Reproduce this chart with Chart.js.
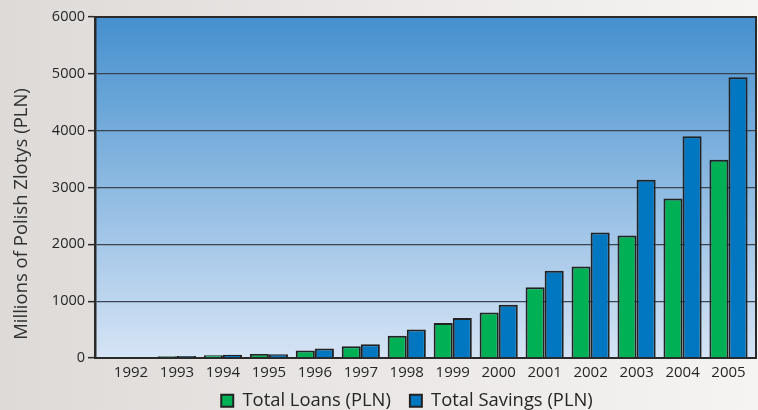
<!DOCTYPE html>
<html>
<head>
<meta charset="utf-8">
<style>
  html, body { margin: 0; padding: 0; background: #e6e3e1; }
  #wrap { width: 758px; height: 410px; position: relative; }
</style>
<script src="https://cdn.jsdelivr.net/npm/chart.js@4/dist/chart.umd.min.js"></script>
</head>
<body>
<div id="wrap"><canvas id="chart" width="758" height="410"></canvas></div>
<script>
// Years on the horizontal axis
const years = [1992, 1993, 1994, 1995, 1996, 1997, 1998, 1999, 2000, 2001, 2002, 2003, 2004, 2005];
// Millions of PLN
const totalLoans   = [0, 30, 50, 70, 130, 205, 390, 615, 800, 1245, 1610, 2155, 2805, 3490];
const totalSavings = [0, 35, 55, 65, 165, 240, 500, 705, 935, 1535, 2210, 3135, 3900, 4940];
const valueTicks = [0, 1000, 2000, 3000, 4000, 5000, 6000];
const seriesNames = ['Total Loans (PLN)', 'Total Savings (PLN)'];
const yTitle = 'Millions of Polish Zlotys (PLN)';

const FONT = '"Open Sans", "Noto Sans", sans-serif';
const INK = '#262626';

// Page wash and plot-area gradient behind everything
const backdrop = {
  id: 'backdrop',
  beforeDraw(chart) {
    const { ctx, width, height, chartArea: a } = chart;
    ctx.save();
    const page = ctx.createLinearGradient(0, 0, width, 0);
    page.addColorStop(0, '#dedad8');
    page.addColorStop(1, '#f6f4f3');
    ctx.fillStyle = page;
    ctx.fillRect(0, 0, width, height);
    const plot = ctx.createLinearGradient(0, a.top, 0, a.bottom);
    plot.addColorStop(0, '#4590ce');
    plot.addColorStop(1, '#d6e4f5');
    ctx.fillStyle = plot;
    ctx.fillRect(a.left, a.top, a.right - a.left, a.bottom - a.top);
    ctx.restore();
  },
  afterDatasetsDraw(chart) {
    // top and right edges of the plot frame
    const { ctx, chartArea: a } = chart;
    ctx.save();
    ctx.strokeStyle = '#2a2a2a';
    ctx.lineWidth = 2;
    ctx.beginPath();
    ctx.moveTo(a.left, a.top);
    ctx.lineTo(a.right, a.top);
    ctx.lineTo(a.right, a.bottom);
    ctx.stroke();
    ctx.restore();
  }
};

// Legend row sits a little higher and is centred under the bars
const legendPlacement = {
  id: 'legendPlacement',
  afterLayout(chart) {
    const lg = chart.legend;
    if (!lg) return;
    lg.left = 58;
    lg.width = lg.right - lg.left;
    lg.top = 372.5;
    lg.bottom = 410;
    lg.height = lg.bottom - lg.top;
  }
};

// Rotated value-axis title
const axisTitle = {
  id: 'axisTitle',
  afterDraw(chart) {
    const { ctx } = chart;
    ctx.save();
    ctx.translate(22, 214);
    ctx.rotate(-Math.PI / 2);
    ctx.font = '18.5px ' + FONT;
    ctx.fillStyle = '#303030';
    ctx.textAlign = 'center';
    ctx.textBaseline = 'middle';
    ctx.fillText(yTitle, 0, 0);
    ctx.restore();
  }
};

new Chart(document.getElementById('chart'), {
  type: 'bar',
  data: {
    labels: years,
    datasets: [
      {
        label: seriesNames[0],
        data: totalLoans,
        backgroundColor: '#00b054',
        borderColor: '#222222',
        borderWidth: 2
      },
      {
        label: seriesNames[1],
        data: totalSavings,
        backgroundColor: '#0077c0',
        borderColor: '#222222',
        borderWidth: 2
      }
    ]
  },
  options: {
    responsive: false,
    animation: false,
    devicePixelRatio: 1,
    layout: { padding: { left: 0, right: 2, top: 17, bottom: 0 } },
    datasets: {
      bar: { categoryPercentage: 0.83, barPercentage: 1.0 }
    },
    plugins: {
      title: { display: false },
      tooltip: { enabled: false },
      legend: {
        display: true,
        position: 'bottom',
        maxHeight: 28,
        labels: {
          boxWidth: 12,
          boxHeight: 12,
          padding: 19,
          color: INK,
          font: { family: FONT, size: 18.4 }
        }
      }
    },
    scales: {
      x: {
        type: 'linear',
        offset: false,
        min: 1991.217,
        max: 2005.598,
        afterBuildTicks(scale) {
          scale.ticks = years.map(v => ({ value: v }));
        },
        afterFit(scale) { scale.height = 24; },
        grid: { display: false, drawTicks: false },
        border: { display: true, color: '#2a2a2a', width: 2 },
        ticks: {
          padding: 6,
          color: INK,
          autoSkip: false,
          maxRotation: 0,
          font: { family: FONT, size: 15 },
          callback: v => String(v)
        }
      },
      y: {
        min: 0,
        max: 6000,
        afterBuildTicks(scale) {
          scale.ticks = valueTicks.map(v => ({ value: v }));
        },
        afterFit(scale) { scale.width = 95; },
        grid: {
          color: '#3a4350',
          lineWidth: 1.3,
          drawTicks: true,
          tickLength: 7,
          tickColor: '#2a2a2a',
          tickWidth: 1.5
        },
        border: { display: true, color: '#2a2a2a', width: 2.5 },
        ticks: {
          padding: 3,
          color: INK,
          font: { family: FONT, size: 14.5 },
          callback: v => String(v)
        }
      }
    }
  },
  plugins: [backdrop, legendPlacement, axisTitle]
});
</script>
</body>
</html>
